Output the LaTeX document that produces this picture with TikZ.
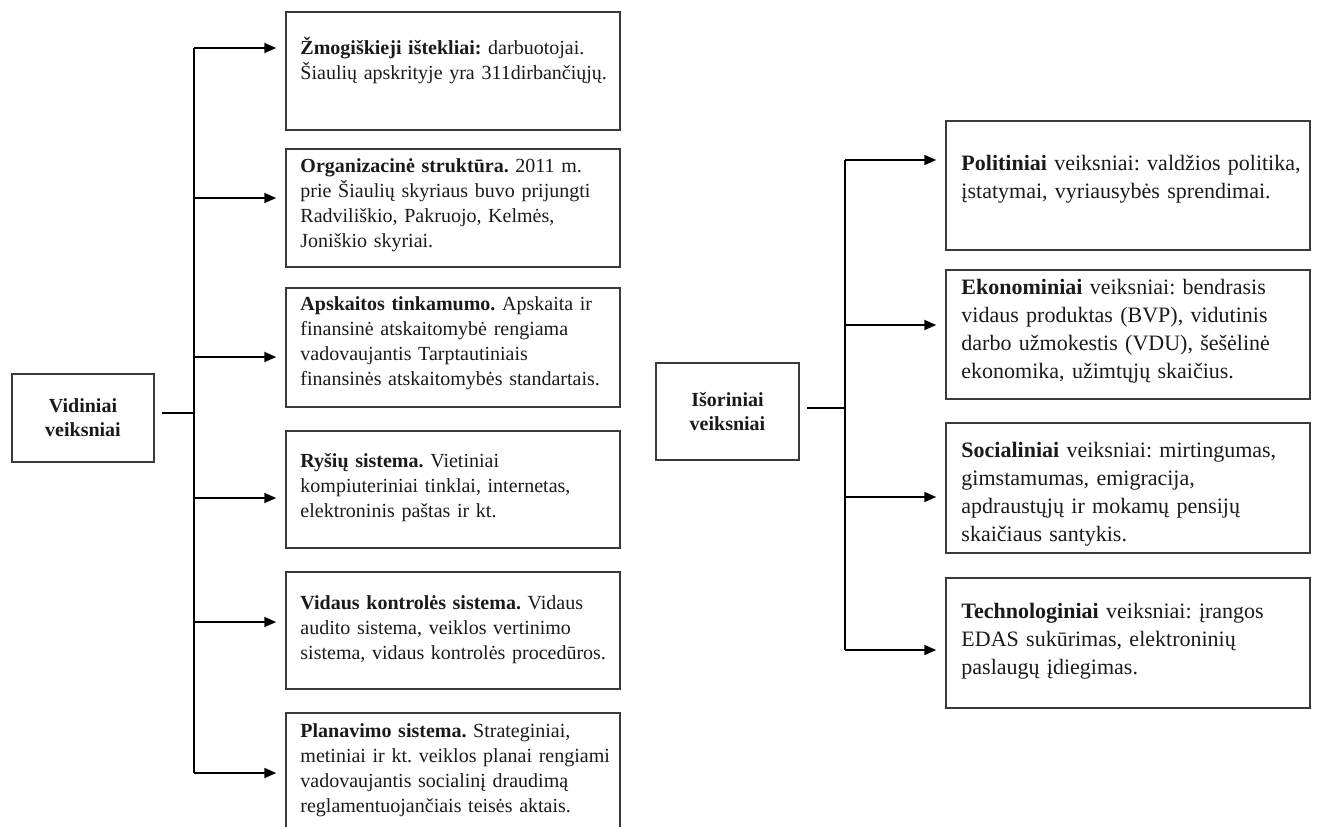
\documentclass[tikz,border=0pt]{standalone}
\usepackage{fontspec}
\setmainfont{Liberation Serif}
\usetikzlibrary{arrows.meta}
\definecolor{boxgray}{HTML}{3A3A3A}
\definecolor{inkc}{HTML}{1A1A1A}
\frenchspacing
\begin{document}
\begin{tikzpicture}[x=1pt,y=-1pt,
  lbox/.style={draw=boxgray, line width=1.5pt, minimum width=334pt, inner sep=0pt},
  rbox/.style={draw=boxgray, line width=1.5pt, minimum width=364pt, inner sep=0pt},
  mainbox/.style={draw=boxgray, line width=1.5pt, minimum width=142pt, inner sep=0pt},
  ltxt/.style={anchor=west, inner sep=0pt, text width=318pt, align=left, text=inkc,
    font=\fontsize{20pt}{25pt}\selectfont},
  rtxt/.style={anchor=west, inner sep=0pt, text width=345pt, align=left, text=inkc,
    font=\fontsize{22pt}{28pt}\selectfont},
  mtxt/.style={inner sep=0pt, align=center, text=inkc,
    font=\fontsize{20pt}{24pt}\selectfont\bfseries},
  conn/.style={draw=black, line width=1.8pt},
  arr/.style={conn, -{Triangle[length=12pt,width=10pt]}, shorten >=9pt}
]
\useasboundingbox (0,0) rectangle (1317,827);

% main boxes
\node[mainbox, minimum height=88pt] (vid) at (83,418) {};
\node[mtxt] (vidt) at (vid.center) {Vidiniai\\veiksniai};
\node[mainbox, minimum width=143pt, minimum height=97pt] (isor) at (727.5,411.5) {};
\node[mtxt] (isort) at (isor.center) {Išoriniai\\veiksniai};

% left boxes
\node[lbox, minimum height=118pt] (b1) at (453,71) {};
\node[ltxt, yshift=11pt] (t1) at ([xshift=15pt]b1.west)
  {\textbf{Žmogiškieji ištekliai:} darbuotojai.\\ Šiaulių apskrityje yra 311dirbančiųjų.};
\node[lbox, minimum height=118pt] (b2) at (453,208) {};
\node[ltxt, yshift=3pt] (t2) at ([xshift=15pt]b2.west)
  {\textbf{Organizacinė struktūra.} 2011 m.\\ prie Šiaulių skyriaus buvo prijungti\\ Radviliškio, Pakruojo, Kelmės,\\ Joniškio skyriai.};
\node[lbox, minimum height=119pt] (b3) at (453,347.5) {};
\node[ltxt, yshift=4pt] (t3) at ([xshift=15pt]b3.west)
  {\textbf{Apskaitos tinkamumo.} Apskaita ir\\ finansinė atskaitomybė rengiama\\ vadovaujantis Tarptautiniais\\ finansinės atskaitomybės standartais.};
\node[lbox, minimum height=117pt] (b4) at (453,489.5) {};
\node[ltxt, yshift=2pt] (t4) at ([xshift=15pt]b4.west)
  {\textbf{Ryšių sistema.} Vietiniai\\ kompiuteriniai tinklai, internetas,\\ elektroninis paštas ir kt.};
\node[lbox, minimum height=117pt] (b5) at (453,630.5) {};
\node[ltxt, yshift=1pt] (t5) at ([xshift=15pt]b5.west)
  {\textbf{Vidaus kontrolės sistema.} Vidaus\\ audito sistema, veiklos vertinimo\\ sistema, vidaus kontrolės procedūros.};
\node[lbox, minimum height=122pt] (b6) at (453,774) {};
\node[ltxt, yshift=4pt] (t6) at ([xshift=15pt]b6.west)
  {\textbf{Planavimo sistema.} Strateginiai,\\ metiniai ir kt. veiklos planai rengiami\\ vadovaujantis socialinį draudimą\\ reglamentuojančiais teisės aktais.};

% right boxes
\node[rbox, minimum height=129pt] (r1) at (1128,185.5) {};
\node[rtxt, yshift=6pt] (u1) at ([xshift=16pt]r1.west)
  {\textbf{Politiniai} veiksniai: valdžios politika,\\ įstatymai, vyriausybės sprendimai.};
\node[rbox, minimum height=129pt] (r2) at (1128,334.5) {};
\node[rtxt, yshift=3pt] (u2) at ([xshift=16pt]r2.west)
  {\textbf{Ekonominiai} veiksniai: bendrasis\\ vidaus produktas (BVP), vidutinis\\ darbo užmokestis (VDU), šešėlinė\\ ekonomika, užimtųjų skaičius.};
\node[rbox, minimum height=130pt] (r3) at (1128,488) {};
\node[rtxt, yshift=-6pt] (u3) at ([xshift=16pt]r3.west)
  {\textbf{Socialiniai} veiksniai: mirtingumas,\\ gimstamumas, emigracija,\\ apdraustųjų ir mokamų pensijų\\ skaičiaus santykis.};
\node[rbox, minimum height=130pt] (r4) at (1128,643) {};
\node[rtxt, yshift=2pt] (u4) at ([xshift=16pt]r4.west)
  {\textbf{Technologiniai} veiksniai: įrangos\\ EDAS sukūrimas, elektroninių\\ paslaugų įdiegimas.};

% left connectors
\coordinate (jL) at (194,413);
\coordinate (vidE) at ([xshift=7pt]vid.east);
\coordinate (sL1) at (194,48);
\coordinate (sL2) at (194,198);
\coordinate (sL3) at (194,357);
\coordinate (sL4) at (194,498);
\coordinate (sL5) at (194,622);
\coordinate (sL6) at (194,773);
\draw[conn] (sL1) -- (sL6);
\draw[conn] (vidE |- jL) -- (jL);
\foreach \i in {1,...,6}{
  \draw[arr] (sL\i) -- (sL\i -| b\i.west);
}

% right connectors
\coordinate (jR) at (845,408);
\coordinate (isorE) at ([xshift=7pt]isor.east);
\coordinate (sR1) at (845,160);
\coordinate (sR2) at (845,325);
\coordinate (sR3) at (845,497);
\coordinate (sR4) at (845,650);
\draw[conn] (sR1) -- (sR4);
\draw[conn] (isorE |- jR) -- (jR);
\foreach \i in {1,...,4}{
  \draw[arr] (sR\i) -- (sR\i -| r\i.west);
}
\end{tikzpicture}
\end{document}
